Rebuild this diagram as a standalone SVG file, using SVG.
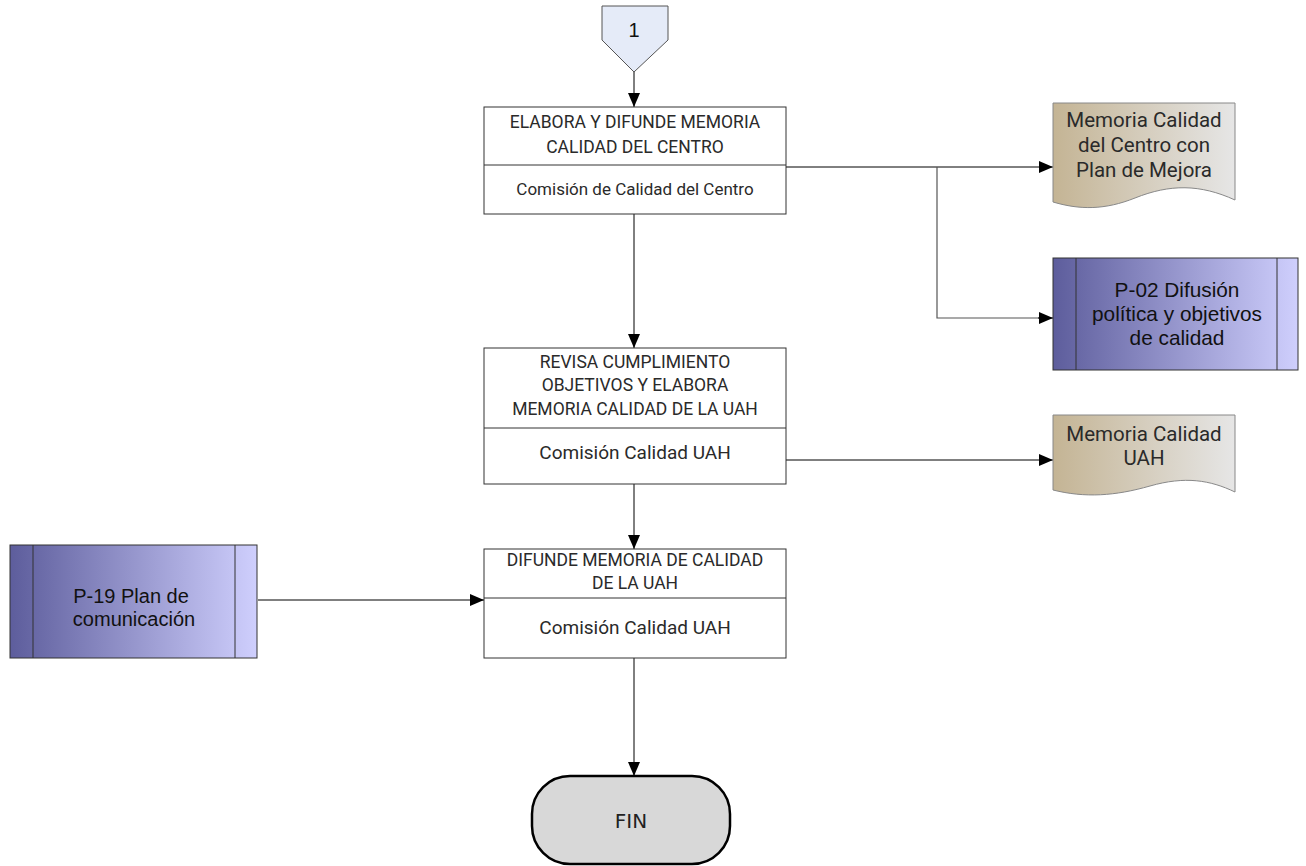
<svg xmlns="http://www.w3.org/2000/svg" width="1306" height="866" viewBox="0 0 1306 866">
<defs>
<linearGradient id="gP" x1="0" y1="0" x2="1" y2="0">
<stop offset="0" stop-color="#5d5d9c"/>
<stop offset="1" stop-color="#cfcffd"/>
</linearGradient>
<linearGradient id="gD" x1="0" y1="0" x2="1" y2="0">
<stop offset="0" stop-color="#c4b494"/>
<stop offset="1" stop-color="#e6e6e6"/>
</linearGradient>
<marker id="arr" viewBox="0 0 14 12" refX="14" refY="6" markerWidth="14" markerHeight="12" markerUnits="userSpaceOnUse" orient="auto">
<path d="M0,0 L14,6 L0,12 Z" fill="#000"/>
</marker>
</defs>
<style>
.box{fill:#fff;stroke:#333;stroke-width:1}
.div{stroke:#333;stroke-width:1}
.din{font-family:Roboto,"Liberation Sans",sans-serif;fill:#2a2a2a;text-anchor:middle}
.ar{font-family:"Liberation Sans",Arial,sans-serif;fill:#111;text-anchor:middle}
.doc{fill:url(#gD);stroke:#888;stroke-width:1}
.proc{fill:url(#gP);stroke:#333;stroke-width:1}
.con{fill:none;stroke:#000;stroke-width:1;marker-end:url(#arr)}
.con2{fill:none;stroke:#555;stroke-width:1.2}
</style>

<g id="connectors">
<path class="con" d="M634,72 V107"/>
<path class="con" d="M786,167 H1053"/>
<path class="con2" d="M937,167 V318 H1045"/>
<path class="con" d="M1038,318 H1053"/>
<path class="con" d="M634,214 V348"/>
<path class="con" d="M786,460 H1053"/>
<path class="con" d="M634,484 V549"/>
<path class="con" d="M258,600 H484"/>
<path class="con" d="M634,658 V776"/>
</g>

<g id="start-connector">
<polygon points="602,6 668,6 668,40 634,72 602,40" fill="#e5ebf8" stroke="#555" stroke-width="1"/>
<text class="ar" x="634" y="37" font-size="20">1</text>
</g>

<g id="task1">
<rect class="box" x="484" y="107" width="302" height="107"/>
<line class="div" x1="484" y1="165" x2="786" y2="165"/>
<text class="din" x="635" y="128" font-size="17.5">ELABORA Y DIFUNDE MEMORIA</text>
<text class="din" x="635" y="153" font-size="17.5">CALIDAD DEL CENTRO</text>
<text class="din" x="635" y="195" font-size="17">Comisión de Calidad del Centro</text>
</g>

<g id="task2">
<rect class="box" x="484" y="348" width="302" height="136"/>
<line class="div" x1="484" y1="428" x2="786" y2="428"/>
<text class="din" x="635" y="368" font-size="17.5">REVISA CUMPLIMIENTO</text>
<text class="din" x="635" y="391" font-size="17.5">OBJETIVOS Y ELABORA</text>
<text class="din" x="635" y="415" font-size="17.5">MEMORIA CALIDAD DE LA UAH</text>
<text class="din" x="635" y="459" font-size="19">Comisión Calidad UAH</text>
</g>

<g id="task3">
<rect class="box" x="484" y="549" width="302" height="109"/>
<line class="div" x1="484" y1="598" x2="786" y2="598"/>
<text class="din" x="635" y="566" font-size="17.5">DIFUNDE MEMORIA DE CALIDAD</text>
<text class="din" x="635" y="589" font-size="17.5">DE LA UAH</text>
<text class="din" x="635" y="634" font-size="19">Comisión Calidad UAH</text>
</g>

<g id="doc-centro">
<path class="doc" d="M1053,103 H1235 V200 C1200,184 1170,184 1135,198 C1105,210 1080,210 1053,202 Z"/>
<text class="din" x="1144" y="127" font-size="20.5">Memoria Calidad</text>
<text class="din" x="1144" y="152" font-size="20.5">del Centro con</text>
<text class="din" x="1144" y="177" font-size="20.5">Plan de Mejora</text>
</g>

<g id="p02">
<rect class="proc" x="1053" y="258" width="245" height="112"/>
<line class="div" x1="1076" y1="258" x2="1076" y2="370"/>
<line class="div" x1="1277" y1="258" x2="1277" y2="370"/>
<text class="ar" x="1177" y="297" font-size="20.8">P-02 Difusión</text>
<text class="ar" x="1177" y="321" font-size="20.8">política y objetivos</text>
<text class="ar" x="1177" y="345" font-size="20.8">de calidad</text>
</g>

<g id="doc-uah">
<path class="doc" d="M1053,415 H1235 V492 C1210,480 1185,476 1150,486 C1115,496 1085,498 1053,490 Z"/>
<text class="din" x="1144" y="441" font-size="20.5">Memoria Calidad</text>
<text class="din" x="1144" y="465" font-size="20.5">UAH</text>
</g>

<g id="p19">
<rect class="proc" x="10" y="545" width="247" height="113"/>
<line class="div" x1="33" y1="545" x2="33" y2="658"/>
<line class="div" x1="235" y1="545" x2="235" y2="658"/>
<text class="ar" x="131" y="603" font-size="20">P-19 Plan de</text>
<text class="ar" x="134" y="626" font-size="20">comunicación</text>
</g>

<g id="fin">
<rect x="532" y="776" width="198" height="88" rx="38" ry="38" fill="#d8d8d8" stroke="#000" stroke-width="2.5"/>
<text x="631" y="828" font-family="'DejaVu Sans',sans-serif" font-size="20" fill="#222" text-anchor="middle">FIN</text>
</g>
</svg>
